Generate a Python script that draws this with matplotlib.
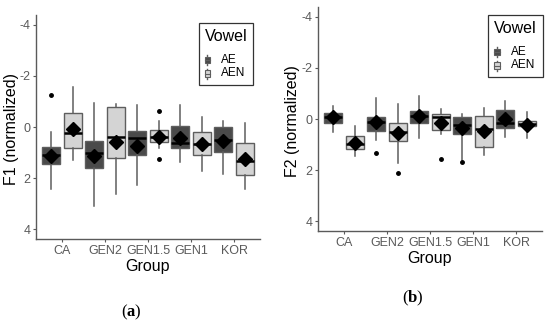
import numpy as np
import matplotlib.pyplot as plt
from matplotlib.legend_handler import HandlerBase

plt.rcParams['font.family'] = ['Liberation Sans', 'DejaVu Sans']
plt.rcParams['mathtext.fontset'] = 'custom'
plt.rcParams['mathtext.bf'] = 'Liberation Serif:bold'
plt.rcParams['axes.unicode_minus'] = False

darkFill = "#4a4a4a"
lightFill = "#d4d4d4"
edgeColor = "#5e5e5e"
tickColor = "#5a5a5a"

groups = ["CA", "GEN2", "GEN1.5", "GEN1", "KOR"]

# (whisker low, q1, median, q3, whisker high) for each group
f1_ae = [(0.18, 0.77, 1.10, 1.45, 2.43), (-0.95, 0.55, 1.03, 1.62, 3.10),
         (-0.86, 0.16, 0.42, 1.11, 2.29), (-0.86, -0.04, 0.61, 0.81, 1.39),
         (-0.25, 0.00, 0.52, 0.99, 1.84)]
f1_aen = [(-1.56, -0.56, 0.22, 0.84, 1.29), (-0.90, -0.77, 0.41, 1.22, 2.64),
          (-0.25, 0.12, 0.41, 0.58, 0.84), (-0.38, 0.18, 0.67, 1.11, 1.74),
          (-0.14, 0.64, 1.32, 1.90, 2.44)]
f1_ae_mean = [1.14, 1.12, 0.73, 0.42, 0.54]
f1_aen_mean = [0.09, 0.58, 0.39, 0.67, 1.24]
f1_ae_out = [[-1.24], [], [], [], []]
f1_aen_out = [[], [], [-0.63, 1.27], [], []]

f2_ae = [(-0.51, -0.22, -0.09, 0.17, 0.50), (-0.84, -0.09, 0.10, 0.46, 0.82),
         (-0.90, -0.30, -0.12, 0.17, 0.74), (-0.20, -0.09, 0.23, 0.60, 1.60),
         (-0.70, -0.34, 0.17, 0.34, 0.69)]
f2_aen = [(0.27, 0.67, 0.99, 1.17, 1.44), (-0.59, 0.14, 0.52, 0.86, 1.71),
          (-0.38, -0.20, -0.07, 0.43, 0.59), (-0.44, -0.12, 0.39, 1.08, 1.42),
          (-0.29, 0.08, 0.18, 0.27, 0.73)]
f2_ae_mean = [-0.07, 0.13, -0.10, 0.34, 0.01]
f2_aen_mean = [0.93, 0.54, 0.17, 0.46, 0.25]
f2_ae_out = [[], [1.34], [], [1.70], []]
f2_aen_out = [[], [2.10], [1.58], [], []]


class BoxKey(HandlerBase):
    # small boxplot glyph for the legend keys
    def create_artists(self, legend, orig, xd, yd, w, h, fontsize, trans):
        cx = xd + w / 2
        line = plt.Line2D([cx, cx], [yd - 0.2 * h, yd + 1.2 * h], color=edgeColor,
                          lw=1, transform=trans)
        rect = plt.Rectangle((xd, yd + 0.05 * h), w, 0.9 * h,
                             facecolor=orig.get_facecolor(), edgecolor=edgeColor,
                             lw=0.8, transform=trans)
        med = plt.Line2D([xd, xd + w], [yd + h / 2] * 2, color=edgeColor, lw=0.8,
                         transform=trans)
        return [line, rect, med]


def makeStats(rows, outliers):
    stats = []
    for (lo, q1, med, q3, hi), out in zip(rows, outliers):
        stats.append(dict(whislo=lo, q1=q1, med=med, q3=q3, whishi=hi, fliers=out))
    return stats


def drawPanel(ax, ae, aen, aeMean, aenMean, aeOut, aenOut, ylabel, legAnchor, ylabelX):
    x = np.arange(1, len(groups) + 1)
    for rows, means, outs, fill, off in ((ae, aeMean, aeOut, darkFill, -0.25),
                                         (aen, aenMean, aenOut, lightFill, 0.25)):
        ax.bxp(makeStats(rows, outs), positions=x + off, widths=0.42,
               patch_artist=True, showcaps=False,
               boxprops=dict(facecolor=fill, edgecolor=edgeColor, lw=1),
               whiskerprops=dict(color=edgeColor, lw=1.1),
               medianprops=dict(color="black", lw=1.8),
               flierprops=dict(marker="o", markerfacecolor="black",
                               markeredgecolor="black", markersize=2.5))
        ax.plot(x + off, means, "D", color="black", markersize=7.5, zorder=5)
    ax.set_xlim(0.4, 5.6)
    ax.set_ylim(4.39, -4.39)
    ax.set_xticks(x)
    ax.set_xticklabels(groups)
    ax.set_yticks([-4, -2, 0, 2, 4])
    ax.tick_params(colors=tickColor, labelsize=9, length=2, width=0.8, pad=2)
    for s in ("top", "right"):
        ax.spines[s].set_visible(False)
    for s in ("left", "bottom"):
        ax.spines[s].set_color(tickColor)
        ax.spines[s].set_linewidth(1)
    ax.set_xlabel("Group", fontsize=11.5)
    ax.xaxis.set_label_coords(0.5, -20 / 224)
    ax.set_ylabel(ylabel, fontsize=11.5)
    ax.yaxis.set_label_coords(ylabelX / 224, 0.49)
    handles = [plt.Rectangle((0, 0), 1, 1, facecolor=darkFill),
               plt.Rectangle((0, 0), 1, 1, facecolor=lightFill)]
    leg = ax.legend(handles, ["AE", "AEN"], title="Vowel", loc="upper right",
                    bbox_to_anchor=legAnchor, borderaxespad=0, fontsize=8.5,
                    title_fontsize=11.5, fancybox=False, edgecolor="#333333",
                    framealpha=1, handlelength=0.5, handleheight=0.55,
                    labelspacing=0.15, borderpad=0.5, handletextpad=0.9,
                    handler_map={plt.Rectangle: BoxKey()})
    leg.get_frame().set_linewidth(0.9)
    leg._legend_box.align = "left"
    leg._legend_box.sep = 7


fig = plt.figure(figsize=(5.5, 3.27), dpi=100)
ax1 = fig.add_axes([36 / 550, 88 / 327, 224 / 550, 224 / 327])
ax2 = fig.add_axes([318 / 550, 96 / 327, 224 / 550, 224 / 327])

drawPanel(ax1, f1_ae, f1_aen, f1_ae_mean, f1_aen_mean, f1_ae_out, f1_aen_out,
          "F1 (normalized)", (0.969, 0.964), -17)
drawPanel(ax2, f2_ae, f2_aen, f2_ae_mean, f2_aen_mean, f2_ae_out, f2_aen_out,
          "F2 (normalized)", (1.004, 0.964), -18)

fig.text(131 / 550, 1 - 312 / 327, r"($\mathbf{a}$)", family="Liberation Serif",
         fontsize=12, ha="center", va="center")
fig.text(413 / 550, 1 - 298 / 327, r"($\mathbf{b}$)", family="Liberation Serif",
         fontsize=12, ha="center", va="center")

fig.savefig("out.png", dpi=100)
